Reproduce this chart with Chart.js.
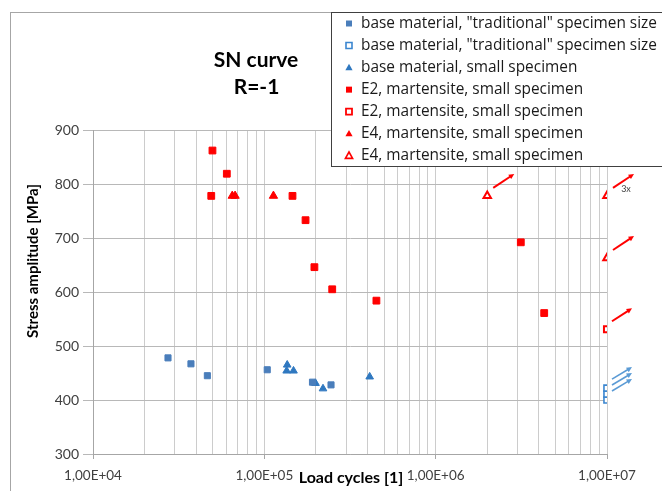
<!DOCTYPE html>
<html>
<head>
<meta charset="utf-8">
<script src="https://cdn.jsdelivr.net/npm/chart.js@4.4.1/dist/chart.umd.min.js"></script>
<style>
  html, body { margin: 0; padding: 0; background: #fff; }
  canvas { display: block; }
</style>
</head>
<body>
<canvas id="sn-chart" width="662" height="491"></canvas>
<script>
// load cycles / stress amplitude
const baseTradN = [27400, 37300, 46500, 104000, 191000, 245000];
const baseTradS = [478, 467, 445, 456, 433, 428];
const baseTradRunN = [1e7, 1e7, 1e7];
const baseTradRunS = [400, 411, 422];
const baseSmallN = [136000, 135000, 148000, 199000, 220000, 412000];
const baseSmallS = [465, 454, 454, 431, 421, 443];
const e2N = [49800, 60400, 49000, 146000, 174000, 196000, 249000, 451000, 3140000, 4300000];
const e2S = [862, 819, 778, 778, 733, 646, 605, 584, 692, 561];
const e2RunN = [1e7];
const e2RunS = [531];
const e4N = [65000, 67500, 113000];
const e4S = [778, 778, 778];
const e4RunN = [2e6, 1e7, 1e7];
const e4RunS = [778, 778, 663];

const seriesNames = [
  'base material, "traditional" specimen size',
  'base material, "traditional" specimen size',
  'base material, small specimen',
  'E2, martensite, small specimen',
  'E2, martensite, small specimen',
  'E4, martensite, small specimen',
  'E4, martensite, small specimen'
];
const xTickLabels = ["1,00E+04", "1,00E+05", "1,00E+06", "1,00E+07"];
const yTicks = [300, 400, 500, 600, 700, 800, 900];

const RED = "#ff0000";
const BLUE_SQ = "#4a7ebb";
const BLUE_TRI = "#2f78c0";
const BLUE_OPEN = "#3b86d0";

function toPoints(xs, ys) {
  return xs.map((x, i) => ({ x: x, y: ys[i] }));
}

function drawArrow(ctx, x1, y1, x2, y2, color, width) {
  const ang = Math.atan2(y2 - y1, x2 - x1);
  const head = 6;
  ctx.save();
  ctx.strokeStyle = color;
  ctx.fillStyle = color;
  ctx.lineWidth = width;
  ctx.beginPath();
  ctx.moveTo(x1, y1);
  ctx.lineTo(x2 - Math.cos(ang) * head * 0.7, y2 - Math.sin(ang) * head * 0.7);
  ctx.stroke();
  ctx.beginPath();
  ctx.moveTo(x2, y2);
  ctx.lineTo(x2 - head * Math.cos(ang - 0.45), y2 - head * Math.sin(ang - 0.45));
  ctx.lineTo(x2 - head * Math.cos(ang + 0.45), y2 - head * Math.sin(ang + 0.45));
  ctx.closePath();
  ctx.fill();
  ctx.restore();
}

function legendMarker(ctx, style, x, y, fill, stroke, lw) {
  ctx.save();
  ctx.beginPath();
  if (style === "rect") {
    ctx.rect(x - 3, y - 3, 6, 6);
  } else {
    ctx.moveTo(x, y - 3.8);
    ctx.lineTo(x + 3.6, y + 2.6);
    ctx.lineTo(x - 3.6, y + 2.6);
    ctx.closePath();
  }
  if (fill) { ctx.fillStyle = fill; ctx.fill(); }
  if (stroke) { ctx.strokeStyle = stroke; ctx.lineWidth = lw; ctx.stroke(); }
  ctx.restore();
}

const decorations = {
  id: "decorations",
  beforeDraw(chart) {
    const ctx = chart.ctx;
    ctx.save();
    ctx.fillStyle = "#fff";
    ctx.fillRect(0, 0, chart.width, chart.height);
    ctx.strokeStyle = "#a6a6a6";
    ctx.lineWidth = 1;
    ctx.strokeRect(10.5, 12.5, 800, 600);
    ctx.restore();
  },
  afterDraw(chart) {
    const ctx = chart.ctx;
    const xs = chart.scales.x, ys = chart.scales.y;

    // titles
    ctx.save();
    ctx.fillStyle = "#000";
    ctx.textAlign = "center";
    ctx.textBaseline = "middle";
    ctx.font = "bold 21px Lato";
    ctx.fillText("SN curve", 256, 60);
    ctx.fillText("R=-1", 256.5, 87.5);
    ctx.font = "bold 16px Lato";
    ctx.fillText("Load cycles [1]", 351, 478);
    ctx.font = "bold 15px Lato";
    ctx.translate(33, 261);
    ctx.rotate(-Math.PI / 2);
    ctx.fillText("Stress amplitude [MPa]", 0, 0);
    ctx.restore();

    // run-out arrows
    const arrowSets = [
      { n: baseTradRunN, s: baseTradRunS, color: "#5b9bd5", w: 1.6, a: [5, -9], b: [25, -21] },
      { n: e2RunN, s: e2RunS, color: RED, w: 2, a: [5, -8], b: [25, -21] },
      { n: e4RunN, s: e4RunS, color: RED, w: 2, a: [6, -8], b: [27, -22] }
    ];
    arrowSets.forEach(set => {
      set.n.forEach((n, i) => {
        const px = xs.getPixelForValue(n), py = ys.getPixelForValue(set.s[i]);
        drawArrow(ctx, px + set.a[0], py + set.a[1], px + set.b[0], py + set.b[1], set.color, set.w);
      });
    });
    ctx.save();
    ctx.fillStyle = "#404040";
    ctx.font = "9px Lato";
    ctx.textAlign = "center";
    ctx.textBaseline = "middle";
    ctx.fillText("3x", xs.getPixelForValue(e4RunN[1]) + 19, ys.getPixelForValue(e4RunS[1]) - 7);
    ctx.restore();

    // legend box
    ctx.save();
    ctx.fillStyle = "#fff";
    ctx.fillRect(331.5, 12.5, 400, 154);
    ctx.strokeStyle = "#404040";
    ctx.lineWidth = 1;
    ctx.strokeRect(331.5, 12.5, 400, 154);
    const marks = [
      ["rect", BLUE_SQ, null, 0],
      ["rect", "#fff", BLUE_OPEN, 1.6],
      ["tri", BLUE_TRI, null, 0],
      ["rect", RED, null, 0],
      ["rect", "#fff", RED, 1.8],
      ["tri", RED, null, 0],
      ["tri", "#fff", RED, 1.6]
    ];
    ctx.font = "15.4px 'Open Sans'";
    ctx.textAlign = "left";
    ctx.textBaseline = "middle";
    seriesNames.forEach((name, i) => {
      const y = 23.5 + i * 22.05;
      const m = marks[i];
      legendMarker(ctx, m[0], 349, y, m[1], m[2], m[3]);
      ctx.fillStyle = "#1a1a1a";
      ctx.fillText(name, 361, y);
    });
    ctx.restore();
  }
};

function buildChart() {
  Chart.defaults.font.family = "Lato";
  new Chart(document.getElementById("sn-chart"), {
    type: "scatter",
    data: {
      datasets: [
        { data: toPoints(baseTradN, baseTradS), pointStyle: "rect", pointRadius: 4.3,
          backgroundColor: BLUE_SQ, borderColor: BLUE_SQ, borderWidth: 1 },
        { data: toPoints(baseTradRunN, baseTradRunS), pointStyle: "rect", pointRadius: 4.3,
          backgroundColor: "#fff", borderColor: BLUE_OPEN, borderWidth: 1.6 },
        { data: toPoints(baseSmallN, baseSmallS), pointStyle: "triangle", pointRadius: 4.4,
          backgroundColor: BLUE_TRI, borderColor: BLUE_TRI, borderWidth: 1 },
        { data: toPoints(e2N, e2S), pointStyle: "rect", pointRadius: 4.8,
          backgroundColor: RED, borderColor: RED, borderWidth: 1 },
        { data: toPoints(e2RunN, e2RunS), pointStyle: "rect", pointRadius: 4.3,
          backgroundColor: "#fff", borderColor: RED, borderWidth: 2 },
        { data: toPoints(e4N, e4S), pointStyle: "triangle", pointRadius: 4.8,
          backgroundColor: RED, borderColor: RED, borderWidth: 1 },
        { data: toPoints(e4RunN, e4RunS), pointStyle: "triangle", pointRadius: 4.3,
          backgroundColor: "#fff", borderColor: RED, borderWidth: 2 }
      ]
    },
    options: {
      responsive: false,
      animation: false,
      events: [],
      layout: { padding: { top: 130, right: 55, left: 0, bottom: 0 } },
      plugins: { legend: { display: false }, title: { display: false }, tooltip: { enabled: false } },
      scales: {
        x: {
          type: "logarithmic",
          min: 1e4,
          max: 1e7,
          afterFit: s => { s.height = 37; },
          afterBuildTicks: s => {
            const t = [];
            for (let e = 4; e < 7; e++) {
              for (let m = 1; m < 10; m++) t.push({ value: m * Math.pow(10, e) });
            }
            t.push({ value: 1e7 });
            s.ticks = t;
          },
          ticks: {
            autoSkip: false,
            maxRotation: 0,
            padding: 9,
            color: "#404040",
            font: { size: 13.5 },
            callback: v => {
              const e = Math.log10(v);
              return Math.abs(e - Math.round(e)) < 1e-9 ? xTickLabels[Math.round(e) - 4] : "";
            }
          },
          grid: {
            color: "#cccccc",
            tickLength: 5,
            tickColor: c => {
              const e = Math.log10(c.tick.value);
              return Math.abs(e - Math.round(e)) < 1e-9 ? "#a6a6a6" : "rgba(0,0,0,0)";
            }
          },
          border: { color: "#a6a6a6" }
        },
        y: {
          min: 300,
          max: 900,
          afterFit: s => { s.width = 93; },
          afterBuildTicks: s => { s.ticks = yTicks.map(v => ({ value: v })); },
          ticks: { padding: 4, color: "#404040", font: { size: 14 } },
          grid: { color: "#b8b8b8", tickLength: 10, tickColor: "#b8b8b8" },
          border: { color: "#a6a6a6" }
        }
      }
    },
    plugins: [decorations]
  });
}

Promise.all([
  document.fonts.load("14px Lato"),
  document.fonts.load("bold 15px Lato"),
  document.fonts.load("15px 'Open Sans'")
]).then(buildChart, buildChart);
</script>
</body>
</html>
